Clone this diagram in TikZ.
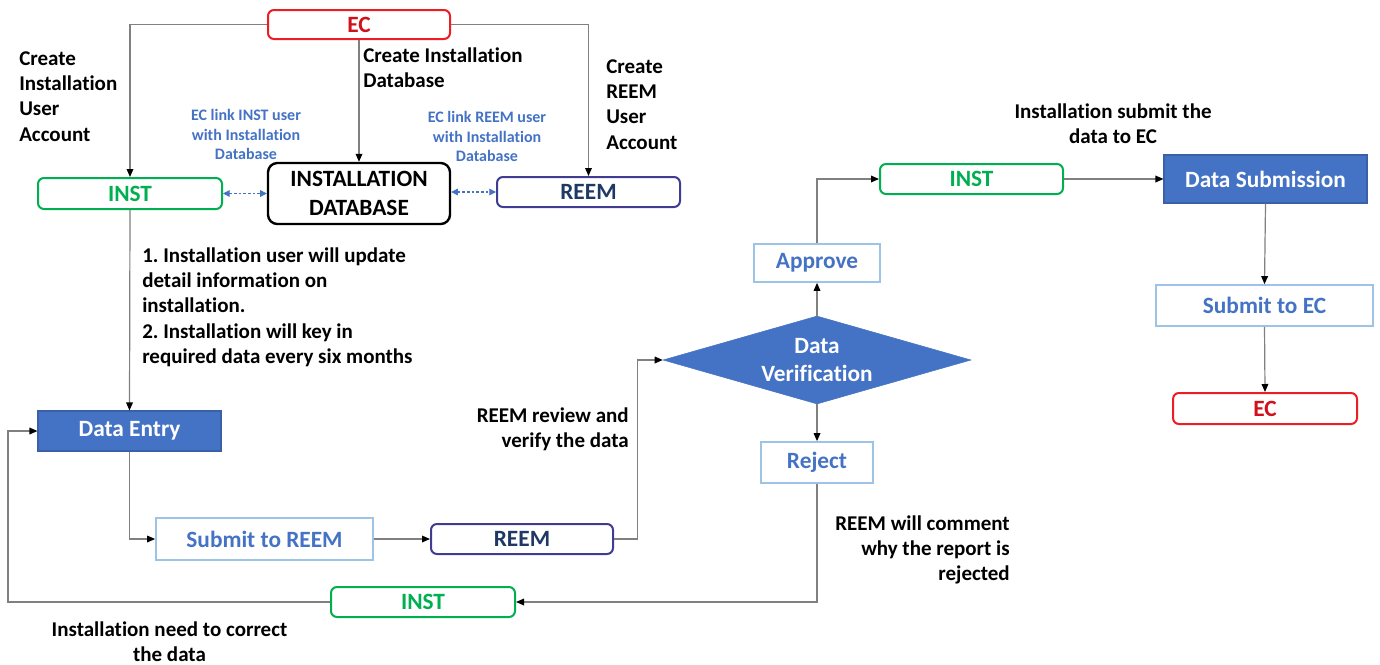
\documentclass[tikz,border=0pt]{standalone}
\usepackage{fontspec}
\setmainfont{Carlito}[Ligatures=CommonOff]
\usetikzlibrary{arrows.meta,shapes.geometric,calc}
\definecolor{ecred}{HTML}{EE1C25}
\definecolor{ectext}{HTML}{D0101A}
\definecolor{instgreen}{HTML}{00B050}
\definecolor{reempurple}{HTML}{403C91}
\definecolor{reemtext}{HTML}{1F3864}
\definecolor{fillblue}{HTML}{4472C4}
\definecolor{lightblue}{HTML}{9DC3E6}
\definecolor{linegray}{HTML}{808080}
\frenchspacing
\begin{document}
\begin{tikzpicture}[x=0.75pt,y=-0.75pt,
  boxfont/.style={font=\bfseries\fontsize{17.5}{21}\selectfont},
  rbox/.style={draw, rounded corners=4.5pt, line width=1.5pt, inner sep=0pt, boxfont, align=center},
  ecbox/.style={rbox, draw=ecred, text=ectext},
  instbox/.style={rbox, draw=instgreen, text=instgreen},
  reembox/.style={rbox, draw=reempurple, text=reemtext},
  dbbox/.style={rbox, draw=black, text=black, line width=1.8pt, rounded corners=7pt},
  fillbox/.style={draw=fillblue!85!black, fill=fillblue, line width=0.8pt, inner sep=0pt, boxfont, text=white},
  lightbox/.style={draw=lightblue, line width=1.3pt, inner sep=0pt, boxfont, text=fillblue},
  conn/.style={draw=linegray, line width=0.9pt, -{Triangle[length=6pt,width=5pt,color=black]}},
  dashlink/.style={draw=fillblue, line width=0.8pt, dash pattern=on 2pt off 1.5pt,
     {Triangle[length=5pt,width=5pt]}-{Triangle[length=5pt,width=5pt]}},
  ann/.style={font=\bfseries\fontsize{15.75}{19.1}\selectfont, inner sep=0pt},
  bluenote/.style={font=\bfseries\fontsize{12}{14.6}\selectfont, inner sep=0pt, text=fillblue, align=center}
]
\useasboundingbox (0,0) rectangle (1380,664);

% ---------- nodes ----------
\node[ecbox, minimum width=182*0.75pt, minimum height=29*0.75pt] (ec) at (359,24.5) {EC};
\node[instbox, minimum width=184*0.75pt, minimum height=31*0.75pt] (inst1) at (130,193.5) {INST};
\node[dbbox, minimum width=182*0.75pt, minimum height=61*0.75pt, font=\bfseries\fontsize{17.5}{21.5}\selectfont] (db) at (359,193.5) {INSTALLATION\\DATABASE};
\node[reembox, minimum width=183*0.75pt, minimum height=30*0.75pt] (reem1) at (588.5,192) {REEM};
\node[fillbox, minimum width=183*0.75pt, minimum height=40*0.75pt] (entry) at (129.5,431) {Data Entry};
\node[lightbox, minimum width=217*0.75pt, minimum height=42*0.75pt] (subreem) at (264.5,539) {Submit to REEM};
\node[reembox, minimum width=182*0.75pt, minimum height=30*0.75pt] (reem2) at (522,539) {REEM};
\node[instbox, minimum width=184*0.75pt, minimum height=30*0.75pt] (inst2) at (423,602) {INST};
\node[diamond, shape aspect=3.5, fill=fillblue, draw=fillblue, inner sep=0pt, minimum width=308*0.75pt, minimum height=88*0.75pt,
      text=white, align=center, font=\bfseries\fontsize{17.5}{21}\selectfont] (dv) at (817,360) {Data\\Verification};
\node[lightbox, minimum width=126*0.75pt, minimum height=38*0.75pt] (approve) at (817,263) {Approve};
\node[lightbox, minimum width=112*0.75pt, minimum height=41*0.75pt] (reject) at (817,462.5) {Reject};
\node[instbox, minimum width=183*0.75pt, minimum height=30*0.75pt] (inst3) at (971.5,179) {INST};
\node[fillbox, minimum width=203*0.75pt, minimum height=48*0.75pt] (dsub) at (1265.5,179) {Data Submission};
\node[lightbox, minimum width=217*0.75pt, minimum height=41*0.75pt] (subec) at (1264.5,305.5) {Submit to EC};
\node[ecbox, minimum width=184*0.75pt, minimum height=31*0.75pt] (ec2) at (1265,408.5) {EC};

% ---------- connectors ----------
\draw[conn] (ec.west) -| (inst1.north);
\draw[conn] (ec.south) -- (db.north);
\draw[conn] (ec.east) -| (reem1.north);
\draw[dashlink] (inst1.east) -- (inst1.east -| db.west);
\draw[dashlink] (reem1.west -| db.east) -- (reem1.west);
\draw[conn] (inst1.south) -- (entry.north);
\draw[conn] (entry.south) |- (subreem.west);
\draw[conn] (subreem.east) -- (reem2.west);
\coordinate (turn1) at (637.5,539);
\draw[conn] (reem2.east) -- (turn1) |- (dv.west);
\draw[conn] (dv.north) -- (approve.south);
\draw[conn] (dv.south) -- (reject.north);
\draw[conn] (approve.north) |- (inst3.west);
\draw[conn] (inst3.east) -- (dsub.west);
\draw[conn] (dsub.south) -- (subec.north);
\draw[conn] (subec.south) -- (ec2.north);
\draw[conn] (reject.south) |- (inst2.east);
\coordinate (turn2) at (8,602);
\draw[conn] (inst2.west) -- (turn2) |- (entry.west);

% ---------- annotations ----------
\node[ann, anchor=north west, align=left] (a1) at (19,51) {Create\\Installation\\User\\Account};
\node[ann, anchor=north west, align=left] (a2) at (363,47) {Create Installation\\Database};
\node[ann, anchor=north west, align=left] (a3) at (606,59) {Create\\REEM\\User\\Account};
\node[bluenote, anchor=north] (b1) at (246,109.5) {EC link INST user\\with Installation\\Database};
\node[bluenote, anchor=north] (b2) at (487,111.5) {EC link REEM user\\with Installation\\Database};
\node[ann, anchor=north west, align=left] (a4) at (142,247) {1. Installation user will update\\detail information on\\installation.\\2. Installation will key in\\required data every six months};
\node[ann, anchor=north east, align=right] (a5) at (629,407) {REEM review and\\verify the data};
\node[ann, anchor=north, align=center] (a6) at (1113,103) {Installation submit the\\data to EC};
\node[ann, anchor=north east, align=right] (a7) at (1010,515) {REEM will comment\\why the report is\\rejected};
\node[ann, anchor=north, align=center] (a8) at (169.5,621) {Installation need to correct\\the data};
\end{tikzpicture}
\end{document}
